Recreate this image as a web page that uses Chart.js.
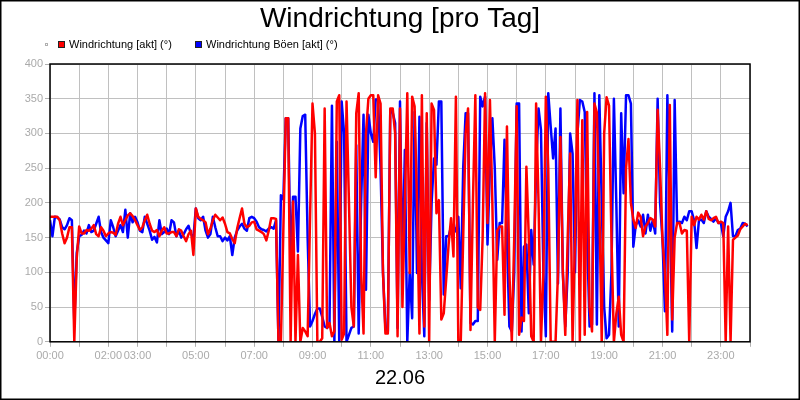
<!DOCTYPE html>
<html>
<head>
<meta charset="utf-8">
<script src="https://cdn.jsdelivr.net/npm/chart.js@4"></script>
<style>
  html, body { margin: 0; padding: 0; background: #ffffff; }
  canvas { display: block; }
</style>
</head>
<body>
<canvas id="c" width="800" height="400"></canvas>
<script>
// Wind direction samples every 5 minutes (00:00 .. 23:55), degrees
const red = [
  180,180,180,180,175,156,142,150,165,165,
  0,120,166,156,156,161,160,163,168,155,
  152,165,160,152,156,158,157,154,170,180,
  168,175,182,185,181,175,168,161,165,175,
  183,170,160,158,161,152,160,165,156,156,
  158,158,152,162,160,152,145,155,160,125,
  192,180,177,175,172,155,163,175,183,179,
  175,179,170,158,156,148,142,163,178,192,
  170,165,167,172,173,162,160,158,155,146,
  160,178,178,177,0,0,160,322,322,0,
  202,0,125,0,20,15,8,180,343,300,
  0,0,5,336,20,27,8,15,346,355,
  3,12,346,200,50,22,329,358,100,12,
  300,350,355,355,237,355,343,100,12,12,
  336,336,300,8,336,50,200,358,99,353,
  339,200,12,355,22,329,0,343,334,185,
  204,32,41,90,140,178,123,353,0,0,
  150,300,336,17,200,355,50,46,150,358,
  171,348,200,0,160,166,166,39,310,100,
  0,150,339,10,35,30,252,150,8,0,
  343,200,0,100,353,250,0,0,0,100,
  295,100,10,150,271,0,150,348,0,319,
  10,331,50,15,343,330,200,0,300,352,
  340,150,0,40,65,10,0,250,292,200,
  176,164,186,180,152,166,171,178,176,166,
  334,250,147,100,10,341,32,150,171,171,
  156,161,160,0,180,168,180,176,183,176,
  188,177,175,178,180,171,173,171,0,166,
  0,147,150,153,162,166,170,168
];
const blue = [
  175,152,180,179,176,165,162,168,178,175,
  27,128,152,154,160,156,168,158,160,170,
  180,158,150,146,142,175,165,152,160,168,
  158,190,150,185,172,180,172,160,158,180,
  170,160,147,151,143,175,155,158,163,155,
  175,172,152,160,150,155,162,167,155,150,
  192,178,175,180,160,150,155,180,165,152,
  152,145,150,146,152,125,150,160,166,170,
  163,160,178,180,178,173,165,162,161,159,
  163,165,163,175,0,211,205,322,322,113,
  209,209,130,307,325,327,150,22,30,40,
  48,48,36,22,20,25,340,0,288,0,
  346,300,0,10,20,22,283,12,200,327,
  75,327,300,288,349,349,250,100,20,15,
  334,330,315,20,346,100,276,0,100,34,
  331,99,324,100,8,315,60,200,264,255,
  346,346,68,152,152,166,166,159,180,77,
  250,329,329,27,25,30,30,353,339,353,
  140,250,322,250,118,171,171,291,150,22,
  15,100,343,343,15,137,140,41,161,111,
  250,336,305,100,8,358,310,264,307,84,
  336,100,22,100,300,271,100,300,348,346,
  331,150,22,25,358,25,355,200,50,5,
  10,100,350,200,22,329,214,355,355,343,
  137,168,175,166,183,156,183,160,175,156,
  350,200,147,44,355,200,15,348,171,173,
  171,180,175,188,188,175,135,175,176,171,
  188,180,177,173,178,171,171,152,180,188,
  200,152,152,161,163,171,170,166
];
const sampleMinutes = 5;
const labeledHours = [0, 2, 3, 5, 7, 9, 11, 13, 15, 17, 19, 21, 23];
const yTicks = [0, 50, 100, 150, 200, 250, 300, 350, 400];
const titleText = 'Windrichtung [pro Tag]';
const dateText = '22.06';
const seriesLabels = ['Windrichtung [akt] (°)', 'Windrichtung Böen [akt] (°)'];
const seriesColors = ['#ff0000', '#0000ff'];

const toPoints = arr => arr.map((v, i) => ({ x: i * sampleMinutes / 60, y: v }));
const pad2 = n => (n < 10 ? '0' : '') + n;
const FONT = '"Liberation Sans", Arial, sans-serif';

const frame = {
  id: 'frame',
  afterDatasetsDraw(chart) {
    const { ctx, chartArea: a } = chart;
    ctx.save();
    ctx.strokeStyle = '#000';
    ctx.lineWidth = 1.5;
    ctx.strokeRect(a.left, a.top, a.right - a.left, a.bottom - a.top);
    ctx.restore();
  },
  afterDraw(chart) {
    const { ctx } = chart;
    ctx.save();
    ctx.strokeStyle = '#000';
    ctx.lineWidth = 1.5;
    ctx.strokeRect(0.75, 0.75, 798.5, 398.5);
    const y = 44.5;
    ctx.strokeStyle = '#b0b0b0';
    ctx.lineWidth = 1;
    ctx.strokeRect(45.5, 43.5, 2, 2);
    ctx.font = '11px ' + FONT;
    ctx.textBaseline = 'middle';
    ctx.textAlign = 'left';
    const xs = [58, 195];
    chart.data.datasets.forEach((ds, k) => {
      const bx = xs[k];
      ctx.fillStyle = ds.borderColor;
      ctx.fillRect(bx, y - 3.5, 7, 7);
      ctx.strokeStyle = '#222';
      ctx.lineWidth = 1;
      ctx.strokeRect(bx + 0.5, y - 3.5 + 0.5, 6, 6);
      ctx.fillStyle = '#000';
      ctx.fillText(ds.label, bx + 11, y + 0.5);
    });
    ctx.restore();
  }
};

new Chart(document.getElementById('c'), {
  type: 'line',
  data: {
    datasets: [
      { label: seriesLabels[0], data: toPoints(red), borderColor: seriesColors[0], backgroundColor: seriesColors[0], borderWidth: 2.5, pointRadius: 0, tension: 0, borderJoinStyle: 'round' },
      { label: seriesLabels[1], data: toPoints(blue), borderColor: seriesColors[1], backgroundColor: seriesColors[1], borderWidth: 2.5, pointRadius: 0, tension: 0, borderJoinStyle: 'round' }
    ]
  },
  options: {
    responsive: false,
    animation: false,
    devicePixelRatio: 1,
    layout: { padding: { left: 0, right: 0, top: 0, bottom: 6 } },
    plugins: {
      legend: { display: false },
      tooltip: { enabled: false },
      title: {
        display: true,
        text: titleText,
        color: '#000',
        font: { family: FONT, size: 28, weight: 'normal', lineHeight: 1.2 },
        padding: { top: 2, bottom: 28.4 }
      }
    },
    scales: {
      x: {
        type: 'linear',
        min: 0,
        max: 24,
        afterBuildTicks(scale) {
          const t = [];
          for (let h = 0; h <= 24; h++) t.push({ value: h });
          scale.ticks = t;
        },
        ticks: {
          autoSkip: false,
          maxRotation: 0,
          padding: 3,
          color: '#aaaaaa',
          font: { family: FONT, size: 11 },
          callback: v => labeledHours.includes(v) ? pad2(v) + ':00' : ''
        },
        grid: { color: '#c0c0c0', lineWidth: 1, tickLength: 5, tickColor: '#b0b0b0' },
        border: { display: false },
        title: {
          display: true,
          text: dateText,
          color: '#000',
          font: { family: FONT, size: 20, lineHeight: 1.2 },
          padding: { top: 0, bottom: 4 }
        }
      },
      y: {
        min: 0,
        max: 400,
        afterBuildTicks(scale) { scale.ticks = yTicks.map(v => ({ value: v })); },
        afterFit(scale) { scale.width = 50; },
        ticks: {
          padding: 2,
          color: '#aaaaaa',
          font: { family: FONT, size: 11 }
        },
        grid: { color: '#c0c0c0', lineWidth: 1, tickLength: 5, tickColor: '#b0b0b0' },
        border: { display: false }
      },
      yRight: {
        position: 'right',
        display: true,
        min: 0,
        max: 400,
        afterFit(scale) { scale.width = 50; },
        ticks: { display: false },
        grid: { display: false, drawTicks: false },
        border: { display: false }
      }
    }
  },
  plugins: [frame]
});
</script>
</body>
</html>
